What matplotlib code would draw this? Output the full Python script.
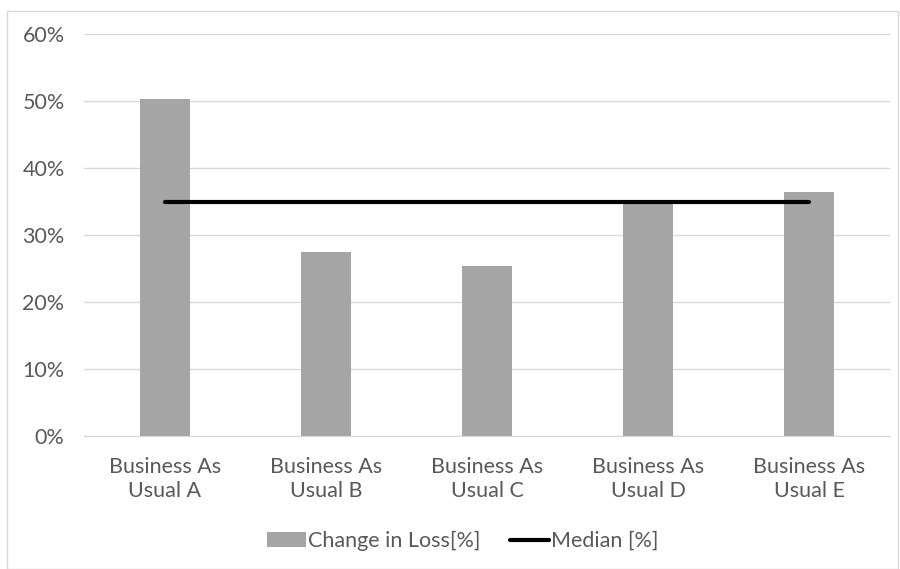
import matplotlib.pyplot as plt
from matplotlib.patches import Rectangle
from matplotlib.ticker import PercentFormatter

plt.rcParams['font.family'] = ['Lato', 'DejaVu Sans']

categories = ['Business As\nUsual A', 'Business As\nUsual B', 'Business As\nUsual C',
              'Business As\nUsual D', 'Business As\nUsual E']
change_in_loss = [50.3, 27.4, 25.3, 35.2, 36.4]
median = [35.0, 35.0, 35.0, 35.0, 35.0]

text_color = '#595959'
grid_color = '#D9D9D9'

fig = plt.figure(figsize=(9, 5.69), dpi=100)
ax = fig.add_axes([84 / 900, 1 - 436 / 569, (890 - 84) / 900, (436 - 34) / 569])

x = list(range(len(categories)))
bars = ax.bar(x, change_in_loss, width=0.31, color='#A5A5A5', label='Change in Loss[%]', zorder=2)
line, = ax.plot(x, median, color='black', linewidth=3, label='Median [%]', zorder=3,
                solid_capstyle='round')

ax.set_xlim(-0.5, len(categories) - 0.5)
ax.set_ylim(0, 60)
ax.set_yticks(range(0, 61, 10))
ax.yaxis.set_major_formatter(PercentFormatter(decimals=0))
ax.set_xticks(x)
ax.set_xticklabels(categories, linespacing=1.25)

ax.grid(axis='y', color=grid_color, linewidth=1, zorder=0)
for s in ['top', 'right', 'left']:
    ax.spines[s].set_visible(False)
ax.spines['bottom'].set_color(grid_color)
ax.tick_params(axis='both', length=0, colors=text_color, labelsize=15.5)
ax.tick_params(axis='y', pad=14)
ax.tick_params(axis='x', pad=15)

leg = ax.legend([bars, line], ['Change in Loss[%]', 'Median [%]'], loc='center',
                bbox_to_anchor=(0.47, (436 - 541) / (436 - 34)), ncol=2,
                frameon=False, fontsize=15.5, handlelength=1.8, handleheight=0.65,
                columnspacing=1.4, handletextpad=0.1)
for t in leg.get_texts():
    t.set_color(text_color)

fig.patches.append(Rectangle((7 / 900, 0.5 / 569), 891 / 900, 558 / 569, transform=fig.transFigure,
                             fill=False, edgecolor='#D9D9D9', linewidth=1))

fig.savefig('out.png', dpi=100)
